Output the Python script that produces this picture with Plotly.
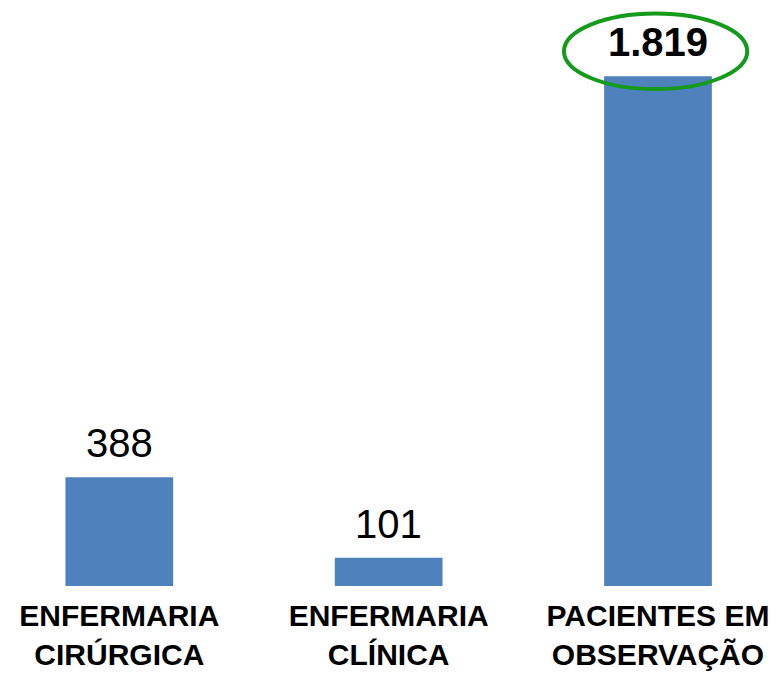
import plotly.graph_objects as go

categories = ["ENFERMARIA CIRÚRGICA", "ENFERMARIA CLÍNICA", "PACIENTES EM OBSERVAÇÃO"]
tick_labels = ["ENFERMARIA<br>CIRÚRGICA", "ENFERMARIA<br>CLÍNICA", "PACIENTES EM<br>OBSERVAÇÃO"]
values = [388, 101, 1819]

# labels with a dot as thousands separator, biggest one in bold
labels = []
for v in values:
    s = f"{v:,}".replace(",", ".")
    if v == max(values):
        s = "<b>" + s + "</b>"
    labels.append(s)

font = "Arial, Liberation Sans, sans-serif"

fig = go.Figure(go.Bar(
    x=categories,
    y=values,
    width=0.4,
    marker_color="#4F81BD",
    marker_line_width=0,
    hoverinfo="skip",
))

for c, v, t in zip(categories, values, labels):
    fig.add_annotation(x=c, y=v, text=t, showarrow=False, yanchor="bottom",
                       yshift=10, font=dict(size=40, color="black", family=font))

# green ring around the largest value
fig.add_shape(type="circle", xref="paper", yref="paper",
              x0=0.723, x1=0.958, y0=0.848, y1=0.977,
              line=dict(color="#149B1B", width=4))

fig.update_xaxes(range=[-0.443, 2.453], tickvals=categories, ticktext=tick_labels,
                 tickfont=dict(size=30, color="black", family=font, weight="bold"),
                 ticklabelstandoff=9,
                 showgrid=False, showline=False, zeroline=False, ticks="",
                 automargin=False)
fig.update_yaxes(range=[0, 2091], visible=False, showgrid=False, zeroline=False)

fig.update_layout(
    width=780, height=674,
    margin=dict(l=0, r=0, t=0, b=88),
    plot_bgcolor="white", paper_bgcolor="white",
    showlegend=False,
    font=dict(family=font),
)

fig.write_html("out.html", config={"displayModeBar": False},
               post_script="document.body.style.margin='0';")
